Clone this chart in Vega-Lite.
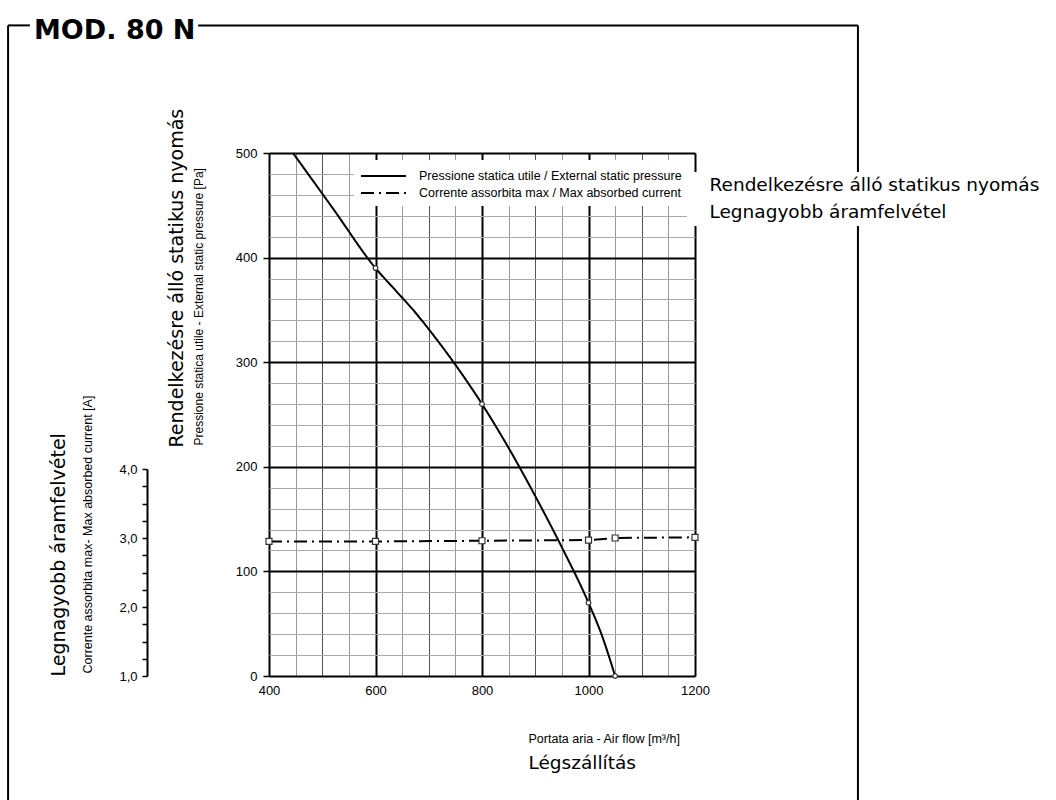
{
  "$schema": "https://vega.github.io/schema/vega-lite/v6.json",
  "width": 426,
  "height": 523,
  "autosize": "none",
  "padding": {"left": 269, "top": 153, "right": 361, "bottom": 124},
  "background": "white",
  "title": {
    "text": "MOD. 80 N",
    "anchor": "start",
    "frame": "group",
    "orient": "top",
    "font": "DejaVu Sans",
    "fontSize": 27,
    "fontWeight": "bold",
    "color": "#000",
    "dx": -235,
    "offset": -42,
    "baseline": "alphabetic"
  },
  "datasets": {
    "pressure": [
      {"flow": 445, "pressure": 500, "marked": false, "it": "Pressione statica utile / External static pressure", "hu": "Rendelkezésre álló statikus nyomás"},
      {"flow": 520, "pressure": 447, "marked": false, "it": "Pressione statica utile / External static pressure", "hu": "Rendelkezésre álló statikus nyomás"},
      {"flow": 600, "pressure": 390, "marked": true, "it": "Pressione statica utile / External static pressure", "hu": "Rendelkezésre álló statikus nyomás"},
      {"flow": 637, "pressure": 369, "marked": false, "it": "Pressione statica utile / External static pressure", "hu": "Rendelkezésre álló statikus nyomás"},
      {"flow": 674, "pressure": 348, "marked": false, "it": "Pressione statica utile / External static pressure", "hu": "Rendelkezésre álló statikus nyomás"},
      {"flow": 710, "pressure": 325, "marked": false, "it": "Pressione statica utile / External static pressure", "hu": "Rendelkezésre álló statikus nyomás"},
      {"flow": 748, "pressure": 299, "marked": false, "it": "Pressione statica utile / External static pressure", "hu": "Rendelkezésre álló statikus nyomás"},
      {"flow": 800, "pressure": 260, "marked": true, "it": "Pressione statica utile / External static pressure", "hu": "Rendelkezésre álló statikus nyomás"},
      {"flow": 850, "pressure": 218, "marked": false, "it": "Pressione statica utile / External static pressure", "hu": "Rendelkezésre álló statikus nyomás"},
      {"flow": 900, "pressure": 172, "marked": false, "it": "Pressione statica utile / External static pressure", "hu": "Rendelkezésre álló statikus nyomás"},
      {"flow": 950, "pressure": 123, "marked": false, "it": "Pressione statica utile / External static pressure", "hu": "Rendelkezésre álló statikus nyomás"},
      {"flow": 1000, "pressure": 70, "marked": true, "it": "Pressione statica utile / External static pressure", "hu": "Rendelkezésre álló statikus nyomás"},
      {"flow": 1025, "pressure": 39, "marked": false, "it": "Pressione statica utile / External static pressure", "hu": "Rendelkezésre álló statikus nyomás"},
      {"flow": 1050, "pressure": 0, "marked": true, "it": "Pressione statica utile / External static pressure", "hu": "Rendelkezésre álló statikus nyomás"}
    ],
    "current": [
      {"flow": 400, "current": 2.95, "it": "Corrente assorbita max / Max absorbed current", "hu": "Legnagyobb áramfelvétel"},
      {"flow": 600, "current": 2.95, "it": "Corrente assorbita max / Max absorbed current", "hu": "Legnagyobb áramfelvétel"},
      {"flow": 800, "current": 2.96, "it": "Corrente assorbita max / Max absorbed current", "hu": "Legnagyobb áramfelvétel"},
      {"flow": 1000, "current": 2.97, "it": "Corrente assorbita max / Max absorbed current", "hu": "Legnagyobb áramfelvétel"},
      {"flow": 1050, "current": 3.0, "it": "Corrente assorbita max / Max absorbed current", "hu": "Legnagyobb áramfelvétel"},
      {"flow": 1200, "current": 3.01, "it": "Corrente assorbita max / Max absorbed current", "hu": "Legnagyobb áramfelvétel"}
    ]
  },
  "config": {
    "view": {"stroke": null},
    "axis": {
      "labelFont": "Liberation Sans",
      "labelFontSize": 13,
      "labelColor": "#000",
      "titleColor": "#000",
      "titleFontWeight": "normal",
      "labelFlush": false,
      "labelOverlap": false,
      "labelBound": false
    }
  },
  "resolve": {
    "scale": {"y": "independent"},
    "axis": {"x": "independent", "y": "independent"}
  },
  "layer": [
    {
      "data": {"name": "pressure"},
      "mark": {"type": "line", "strokeWidth": 2, "interpolate": "monotone"},
      "encoding": {
        "x": {
          "field": "flow", "type": "quantitative",
          "scale": {"domain": [400, 1200], "nice": false, "zero": false},
          "axis": {
            "orient": "bottom",
            "values": [400, 450, 500, 550, 600, 650, 700, 750, 800, 850, 900, 950, 1000, 1050, 1100, 1150, 1200],
            "format": "d",
            "labelExpr": "datum.value % 200 === 0 ? datum.label : ''",
            "ticks": false,
            "domain": false,
            "labelPadding": 8,
            "grid": true,
            "gridWidth": {"condition": {"test": "datum.value % 200 === 0", "value": 2}, "value": 1},
            "gridColor": {"condition": [{"test": "datum.value % 200 === 0", "value": "#000"}, {"test": "datum.value % 100 === 0", "value": "#555"}], "value": "#999"},
            "title": "Portata aria - Air flow [m³/h]",
            "titleFont": "Liberation Sans",
            "titleFontSize": 12.5,
            "titleX": 259,
            "titleY": 62,
            "titleAlign": "left",
            "titleBaseline": "middle"
          }
        },
        "y": {
          "field": "pressure", "type": "quantitative",
          "scale": {"domain": [0, 500], "nice": false},
          "axis": {
            "orient": "left",
            "values": [0, 20, 40, 60, 80, 100, 120, 140, 160, 180, 200, 220, 240, 260, 280, 300, 320, 340, 360, 380, 400, 420, 440, 460, 480, 500],
            "format": "d",
            "labelExpr": "datum.value % 100 === 0 ? datum.label : ''",
            "tickSize": 6,
            "tickWidth": 1.5,
            "tickColor": "#000",
            "tickOpacity": {"condition": {"test": "datum.value % 100 === 0", "value": 1}, "value": 0},
            "domain": false,
            "labelPadding": 6,
            "grid": true,
            "gridWidth": {"condition": {"test": "datum.value % 100 === 0", "value": 2}, "value": 1},
            "gridColor": {"condition": {"test": "datum.value % 100 === 0", "value": "#000"}, "value": "#aaa"},
            "title": "Pressione statica utile - External static pressure [Pa]",
            "titleFont": "Liberation Sans",
            "titleFontSize": 12,
            "titleAngle": -90,
            "titleX": -71,
            "titleY": 292,
            "titleAlign": "left",
            "titleBaseline": "middle"
          }
        },
        "strokeDash": {
          "field": "it", "type": "nominal",
          "scale": {"domain": ["Pressione statica utile / External static pressure", "Corrente assorbita max / Max absorbed current"], "range": [[1, 0], [13, 5, 2, 5]]},
          "legend": {
            "orient": "none",
            "legendX": 85,
            "legendY": 7,
            "title": null,
            "symbolType": "M-1,0H4",
            "symbolSize": 324,
            "symbolStrokeWidth": 2,
            "symbolStrokeColor": "#000",
            "symbolFillColor": "transparent",
            "labelFont": "Liberation Sans",
            "labelFontSize": 12.5,
            "labelColor": "#000",
            "labelOffset": 39,
            "labelLimit": 600,
            "rowPadding": 0,
            "padding": 6,
            "fillColor": "white"
          }
        },
        "color": {
          "field": "hu", "type": "nominal",
          "scale": {"domain": ["Rendelkezésre álló statikus nyomás", "Legnagyobb áramfelvétel"], "range": ["#000", "#000"]},
          "legend": {
            "orient": "none",
            "legendX": 418,
            "legendY": 19,
            "title": null,
            "symbolSize": 0,
            "symbolOpacity": 0,
            "symbolStrokeWidth": 0,
            "labelFont": "DejaVu Sans",
            "labelFontSize": 18.5,
            "labelColor": "#000",
            "labelOffset": 0,
            "labelLimit": 600,
            "rowPadding": 7.5,
            "padding": 4,
            "fillColor": "white"
          }
        }
      }
    },
    {
      "data": {"name": "pressure"},
      "transform": [{"filter": "datum.marked"}],
      "mark": {"type": "point", "shape": "circle", "size": 22, "filled": true, "fill": "white", "stroke": "#333", "strokeWidth": 1.2, "opacity": 1},
      "encoding": {
        "x": {
          "field": "flow", "type": "quantitative",
          "scale": {"domain": [400, 1200], "nice": false, "zero": false},
          "axis": {
            "orient": "bottom",
            "labels": false, "ticks": false, "domain": false, "grid": false,
            "title": "Légszállítás",
            "titleFont": "DejaVu Sans",
            "titleFontSize": 18.5,
            "titleX": 259,
            "titleY": 86,
            "titleAlign": "left",
            "titleBaseline": "middle"
          }
        },
        "y": {
          "field": "pressure", "type": "quantitative",
          "scale": {"domain": [0, 500], "nice": false},
          "axis": {
            "orient": "left",
            "labels": false, "ticks": false, "domain": false, "grid": false,
            "title": "Rendelkezésre álló statikus nyomás",
            "titleFont": "DejaVu Sans",
            "titleFontSize": 19,
            "titleAngle": -90,
            "titleX": -93,
            "titleY": 294,
            "titleAlign": "left",
            "titleBaseline": "middle"
          }
        }
      }
    },
    {
      "data": {"name": "current"},
      "mark": {"type": "line", "strokeWidth": 2},
      "encoding": {
        "x": {"field": "flow", "type": "quantitative", "scale": {"domain": [400, 1200], "nice": false, "zero": false}, "axis": null},
        "y": {
          "field": "current", "type": "quantitative",
          "scale": {"domain": [1, 4], "range": [523, 316], "nice": false, "zero": false},
          "axis": {
            "orient": "left",
            "offset": 122,
            "values": [1, 1.25, 1.5, 1.75, 2, 2.25, 2.5, 2.75, 3, 3.25, 3.5, 3.75, 4],
            "labelExpr": "datum.value % 1 === 0 ? replace(format(datum.value, '.1f'), '.', ',') : ''",
            "tickSize": 5,
            "tickWidth": 1.5,
            "tickColor": "#000",
            "domain": true,
            "domainColor": "#000",
            "domainWidth": 2,
            "grid": false,
            "labelPadding": 5,
            "title": "Corrente assorbita max- Max absorbed current [A]",
            "titleFont": "Liberation Sans",
            "titleFontSize": 12.5,
            "titleAngle": -90,
            "titleX": -60,
            "titleY": 520,
            "titleAlign": "left",
            "titleBaseline": "middle"
          }
        },
        "strokeDash": {
          "field": "it", "type": "nominal",
          "scale": {"domain": ["Pressione statica utile / External static pressure", "Corrente assorbita max / Max absorbed current"], "range": [[1, 0], [13, 5, 2, 5]]}
        },
        "color": {
          "field": "hu", "type": "nominal",
          "scale": {"domain": ["Rendelkezésre álló statikus nyomás", "Legnagyobb áramfelvétel"], "range": ["#000", "#000"]}
        }
      }
    },
    {
      "data": {"name": "current"},
      "mark": {"type": "point", "shape": "square", "size": 36, "filled": true, "fill": "white", "stroke": "#333", "strokeWidth": 1.2, "opacity": 1},
      "encoding": {
        "x": {"field": "flow", "type": "quantitative", "scale": {"domain": [400, 1200], "nice": false, "zero": false}, "axis": null},
        "y": {
          "field": "current", "type": "quantitative",
          "scale": {"domain": [1, 4], "range": [523, 316], "nice": false, "zero": false},
          "axis": {
            "orient": "left",
            "offset": 122,
            "labels": false, "ticks": false, "domain": false, "grid": false,
            "title": "Legnagyobb áramfelvétel",
            "titleFont": "DejaVu Sans",
            "titleFontSize": 19,
            "titleAngle": -90,
            "titleX": -89,
            "titleY": 523,
            "titleAlign": "left",
            "titleBaseline": "middle"
          }
        }
      }
    },
    {
      "data": {"values": [{}]},
      "layer": [
        {
          "mark": {"type": "rule", "color": "#000", "strokeWidth": 2},
          "encoding": {
            "x": {"datum": -90, "type": "quantitative", "scale": {"domain": [400, 1200], "nice": false, "zero": false}, "axis": null},
            "y": {"datum": 622, "type": "quantitative", "scale": {"domain": [0, 500], "nice": false}, "axis": null},
            "y2": {"datum": -126}
          }
        },
        {
          "mark": {"type": "rule", "color": "#000", "strokeWidth": 2},
          "encoding": {
            "x": {"datum": 1506, "type": "quantitative", "scale": {"domain": [400, 1200], "nice": false, "zero": false}, "axis": null},
            "y": {"datum": 622, "type": "quantitative", "scale": {"domain": [0, 500], "nice": false}, "axis": null},
            "y2": {"datum": -126}
          }
        },
        {
          "mark": {"type": "rule", "color": "#000", "strokeWidth": 2},
          "encoding": {
            "x": {"datum": -90, "type": "quantitative", "scale": {"domain": [400, 1200], "nice": false, "zero": false}, "axis": null},
            "x2": {"datum": -49},
            "y": {"datum": 622, "type": "quantitative", "scale": {"domain": [0, 500], "nice": false}, "axis": null}
          }
        },
        {
          "mark": {"type": "rule", "color": "#000", "strokeWidth": 2},
          "encoding": {
            "x": {"datum": 267, "type": "quantitative", "scale": {"domain": [400, 1200], "nice": false, "zero": false}, "axis": null},
            "x2": {"datum": 1506},
            "y": {"datum": 622, "type": "quantitative", "scale": {"domain": [0, 500], "nice": false}, "axis": null}
          }
        }
      ]
    }
  ]
}
